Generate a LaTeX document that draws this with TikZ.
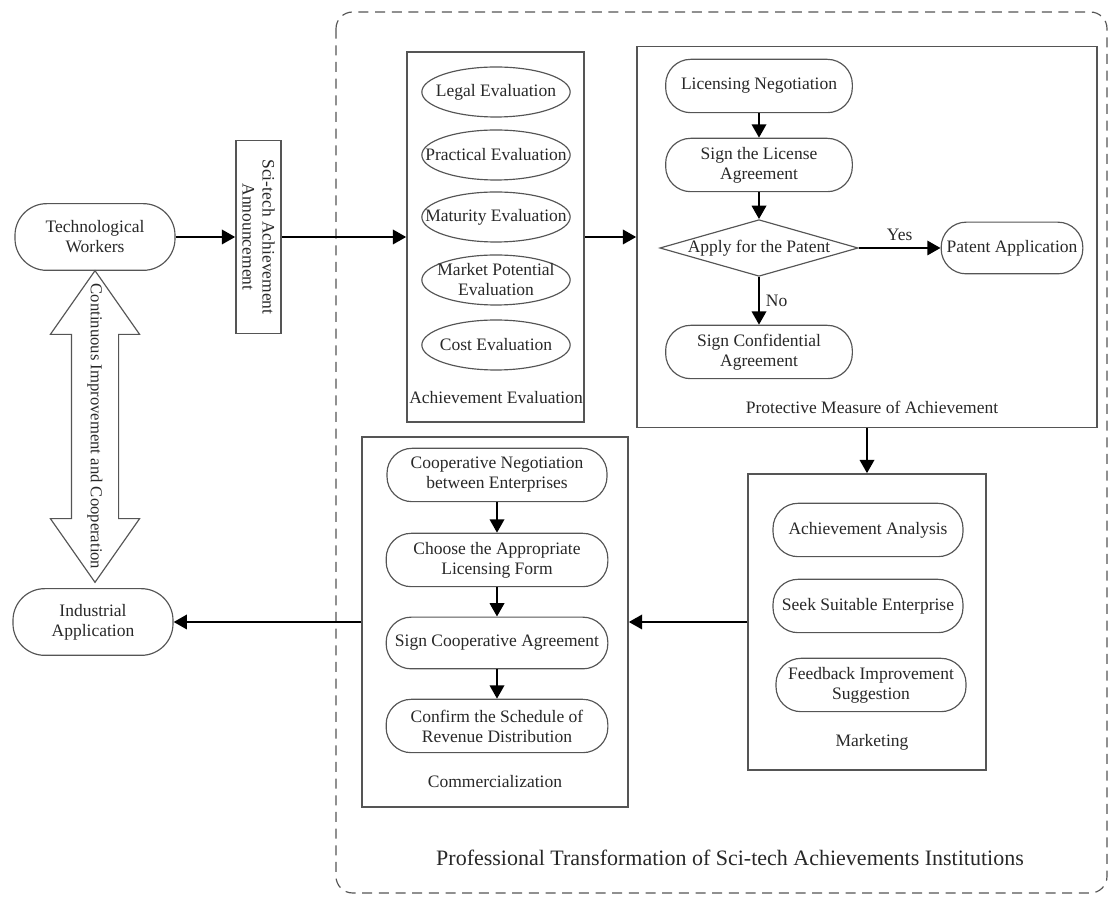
\documentclass[tikz,border=0pt]{standalone}
\usepackage{fontspec}
\setmainfont{Liberation Serif}
\usetikzlibrary{arrows.meta,shapes.geometric,shapes.arrows}

\definecolor{linegray}{RGB}{85,85,85}
\definecolor{textgray}{RGB}{40,40,40}

\tikzset{
  stadium/.style={draw=linegray, line width=0.7pt, rounded corners=15pt, minimum height=32pt,
    inner xsep=0pt, align=center, text=textgray},
  evalnode/.style={draw=linegray, line width=0.7pt, ellipse, minimum width=89pt,
    minimum height=30pt, inner sep=0pt},
  intext/.style={text=textgray, align=center},
  groupbox/.style={draw=linegray, line width=0.9pt, inner sep=0pt},
  flow/.style={line width=1.7pt, -{Triangle[length=8pt,width=8.5pt]}},
}

\begin{document}
\begin{tikzpicture}[x=0.6pt, y=-0.6pt, font=\fontsize{10.5}{12}\selectfont]
    \useasboundingbox (0,0) rectangle (1110,897);

    % institution frame
    \draw[linegray, line width=0.7pt, dash pattern=on 6pt off 4pt, rounded corners=10pt]
        (336,12) rectangle (1107,893);
    \node[intext, font=\fontsize{13.2}{15}\selectfont] (instlabel) at (730,858)
        {Professional Transformation of Sci-tech Achievements Institutions};

    % left column
    \node[stadium, rounded corners=19pt, minimum width=96pt, minimum height=40pt] (tech) at (95,237)
        {Technological\\Workers};
    \node[stadium, rounded corners=19pt, minimum width=96pt, minimum height=40pt] (indapp) at (93,622)
        {Industrial\\Application};
    \node[double arrow, draw=linegray, line width=0.7pt, rotate=-90, minimum height=187pt,
        double arrow head extend=12.6pt, double arrow tip angle=70, inner ysep=13.8pt, inner xsep=0pt]
        (coop) at (95,426.5) {};
    \node[intext, rotate=-90, font=\fontsize{10}{12}\selectfont] (cooptext) at (coop.center)
        {Continuous Improvement and Cooperation};
    \node[groupbox, intext, rotate=-90, minimum width=116pt, minimum height=27pt] (ann) at (258.5,237)
        {Sci-tech Achievement\\Announcement};

    % evaluation
    \node[groupbox, minimum width=106.2pt, minimum height=222pt] (evalbox) at (495.5,237) {};
    \node[evalnode, label={[intext]center:Legal Evaluation}] (legal) at (496,92) {};
    \node[evalnode, label={[intext]center:Practical Evaluation}] (practical) at (496,155) {};
    \node[evalnode, label={[intext]center:Maturity Evaluation}] (maturity) at (496,217) {};
    \node[evalnode, label={[intext]center:Market Potential\\Evaluation}] (market) at (496,280) {};
    \node[evalnode, label={[intext]center:Cost Evaluation}] (cost) at (496,345) {};
    \node[intext] (evallabel) at (496,398) {Achievement Evaluation};

    % protection
    \node[groupbox, minimum width=276pt, minimum height=228.6pt] (protbox) at (867,237) {};
    \node[stadium, minimum width=112pt] (licneg) at (759,86) {Licensing Negotiation};
    \node[stadium, minimum width=112pt] (signlic) at (759,165) {Sign the License\\Agreement};
    \node[diamond, draw=linegray, line width=0.7pt, minimum width=119pt, minimum height=34pt,
        inner sep=0pt, label={[intext]center:Apply for the Patent}] (apply) at (759,248) {};
    \node[stadium, minimum width=85pt, minimum height=31pt] (patent) at (1012,248) {Patent Application};
    \node[stadium, minimum width=112pt] (signconf) at (759,352) {Sign Confidential\\Agreement};
    \node[intext] (protlabel) at (872,407) {Protective Measure of Achievement};

    % marketing
    \node[groupbox, minimum width=142.8pt, minimum height=177.6pt] (mktbox) at (867,622) {};
    \node[stadium, minimum width=114pt] (achana) at (868,530) {Achievement Analysis};
    \node[stadium, minimum width=114pt] (seek) at (868,606) {Seek Suitable Enterprise};
    \node[stadium, minimum width=114pt] (feedback) at (871,685) {Feedback Improvement\\Suggestion};
    \node[intext] (mktlabel) at (872,742) {Marketing};

    % commercialization
    \node[groupbox, minimum width=159.6pt, minimum height=222pt] (combox) at (495,622) {};
    \node[stadium, minimum width=132pt] (coopneg) at (497,475) {Cooperative Negotiation\\between Enterprises};
    \node[stadium, minimum width=133pt] (choose) at (497,560) {Choose the Appropriate\\Licensing Form};
    \node[stadium, minimum width=133pt, minimum height=31pt] (signcoop) at (497,643) {Sign Cooperative Agreement};
    \node[stadium, minimum width=133pt] (confirm) at (497,726) {Confirm the Schedule of\\Revenue Distribution};
    \node[intext] (comlabel) at (495,782) {Commercialization};

    % connectors
    \draw[flow] (tech) -- (ann);
    \draw[flow] (ann) -- (evalbox);
    \draw[flow] (evalbox) -- (protbox);
    \draw[flow] (licneg) -- (signlic);
    \draw[flow] (signlic) -- (apply);
    \draw[flow] (apply) -- node[above, intext] {Yes} (patent);
    \draw[flow] (apply) -- node[right, intext] {No} (signconf);
    \draw[flow] (protbox) -- (mktbox);
    \draw[flow] (mktbox) -- (combox);
    \draw[flow] (combox) -- (indapp);
    \foreach \a/\b in {coopneg/choose, choose/signcoop, signcoop/confirm}
        \draw[flow] (\a) -- (\b);
\end{tikzpicture}
\end{document}
